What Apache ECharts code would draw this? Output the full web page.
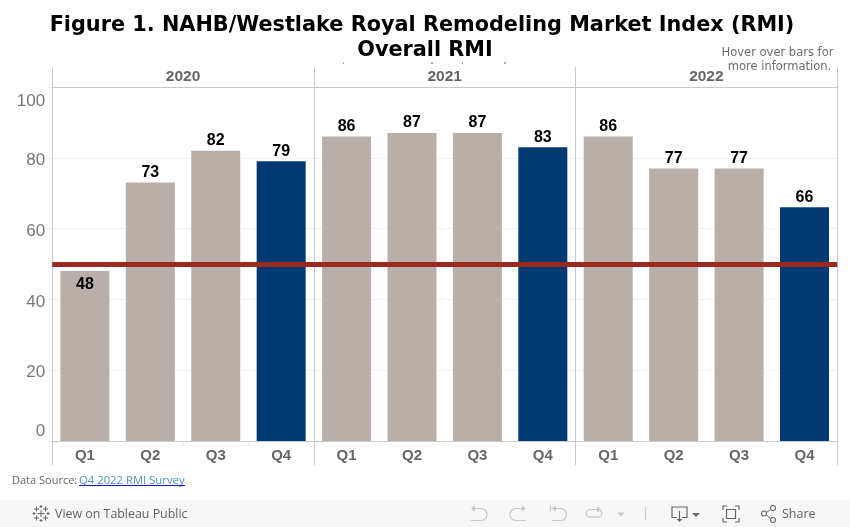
<!DOCTYPE html>
<html>
<head>
<meta charset="utf-8">
<title>Overall RMI</title>
<style>
html, body { margin: 0; padding: 0; background: #fff; }
#main { width: 850px; height: 527px; }
</style>
<script src="https://cdn.jsdelivr.net/npm/echarts@6/dist/echarts.min.js"></script>
</head>
<body>
<div id="main"></div>
<script>
const years = ['2020', '2021', '2022'];
const quarters = ['Q1', 'Q2', 'Q3', 'Q4', 'Q1', 'Q2', 'Q3', 'Q4', 'Q1', 'Q2', 'Q3', 'Q4'];
const rmiValues = [48, 73, 82, 79, 86, 87, 87, 83, 86, 77, 77, 66];
const yTicks = [0, 20, 40, 60, 80, 100];
const refLevel = 50;

const GREY_BAR = '#b9afa9';
const BLUE_BAR = '#003a70';
const FRAME = '#cbcbcb';
const SANS = '"Liberation Sans", Arial, sans-serif';
const DEJA = '"DejaVu Sans", sans-serif';

const yMin = yTicks[0];
const yMax = yTicks[yTicks.length - 1];
const yStep = yTicks[1] - yTicks[0];

// bars below the reference level carry the label inside
let barData = rmiValues.map(function (v, i) {
    return {
        value: v,
        itemStyle: { color: quarters[i] === 'Q4' ? BLUE_BAR : GREY_BAR },
        label: { position: v < refLevel ? 'insideTop' : 'top', distance: v < refLevel ? 6 : 2 }
    };
});

let iconCount = 0;
function icon(d, color, fill, width) {
    let name = 'toolbarIcon' + (iconCount++);
    echarts.graphic.registerShape(name, echarts.graphic.extendPath(d));
    return {
        type: name,
        style: { stroke: fill ? null : color, fill: fill ? color : null, lineWidth: width || 1.2 },
        silent: true
    };
}

function txt(x, y, text, font, color, align) {
    return {
        type: 'text',
        x: x,
        y: y,
        style: { text: text, font: font, fill: color, align: align || 'left', verticalAlign: 'middle' },
        silent: true
    };
}

const OFF = '#c8c8c8';
const ON = '#666666';

let chrome = [
    { type: 'rect', shape: { x: 0, y: 500, width: 850, height: 27 }, style: { fill: '#f7f7f7' }, silent: true, z: -1 },
    // clipped subtitle remains under the title
    { type: 'rect', shape: { x: 343, y: 62.5, width: 1, height: 1 }, style: { fill: '#555' }, silent: true },
    { type: 'rect', shape: { x: 431, y: 62.5, width: 2, height: 1 }, style: { fill: '#555' }, silent: true },
    { type: 'rect', shape: { x: 462, y: 62.5, width: 1, height: 1 }, style: { fill: '#555' }, silent: true },
    { type: 'rect', shape: { x: 504, y: 62.5, width: 2, height: 1 }, style: { fill: '#555' }, silent: true },

    txt(777.5, 53, 'Hover over bars for', '11.5px ' + DEJA, '#6b6b6b', 'center'),
    txt(779.5, 67, 'more information.', '11.5px ' + DEJA, '#6b6b6b', 'center'),

    txt(12, 480.5, 'Data Source:', '11px "Open Sans", sans-serif', '#666666'),
    txt(79, 480.5, 'Q4 2022 RMI Survey', '11.3px "Open Sans", sans-serif', '#4996b2'),
    { type: 'rect', shape: { x: 79, y: 485, width: 106, height: 1 }, style: { fill: '#1010c0' }, silent: true },

    txt(55, 514, 'View on Tableau Public', '12.4px "Open Sans", sans-serif', '#5f5f5f'),
    txt(782, 514, 'Share', '12.5px "Open Sans", sans-serif', '#5f5f5f'),

    // tableau logo
    icon('M41 510v7M37.5 513.5h7M36.5 506.5v5M34 509h5M45.5 506.5v5M43 509h5M36.5 515.5v5M34 518h5M45.5 515.5v5M43 518h5M41 505v3M39.5 506.5h3M41 519v3M39.5 520.5h3M34 512v3M32.5 513.5h3M48 512v3M46.5 513.5h3', '#666', false, 1),

    // undo / redo / revert / refresh
    icon('M472 508.5h9a6 6 0 0 1 0 12h-10', OFF),
    icon('M471 508.5l4 -3v6z', OFF, true),
    icon('M525 508.5h-9a6 6 0 0 0 0 12h10', OFF),
    icon('M526 508.5l-4 -3v6z', OFF, true),
    icon('M550.5 505.5v6M553 508.5h8a5.5 6 0 0 1 0 12h-9', OFF),
    icon('M552 508.5l4 -3v6z', OFF, true),
    icon('M598 509.5h-8a3.8 3.8 0 0 0 0 7.6h8a3.8 3.8 0 0 0 2 -7', OFF),
    icon('M601 509.5l-4 -3v6z', OFF, true),
    icon('M617 512.5h7.5l-3.75 4z', OFF, true),
    icon('M645.5 507v13', '#cfcfcf'),

    // download
    icon('M677 517.5h-5v-10.5h15v10.5h-5M679.5 511v9', ON),
    icon('M676.5 519h6l-3 3z', ON, true),
    icon('M692 513h8l-4 4z', ON, true),

    // fullscreen
    icon('M723 510v-4h4M735 506h4v4M739 518v4h-4M727 522h-4v-4M726.5 509.5h9v9h-9z', ON),

    // share
    icon('M766.5 512.5l4 -3M766.5 515l4 3.5', ON, false, 1),
    icon('M766.5 513.5a2.5 2.5 0 1 1 -5 0a2.5 2.5 0 1 1 5 0M775.5 508a2.5 2.5 0 1 1 -5 0a2.5 2.5 0 1 1 5 0M775.5 520a2.5 2.5 0 1 1 -5 0a2.5 2.5 0 1 1 5 0', ON, false, 1.1)
];

let myChart = echarts.init(document.getElementById('main'), null, { renderer: 'canvas' });

myChart.setOption({
    animation: false,
    backgroundColor: '#fff',
    title: [
        {
            text: 'Figure 1. NAHB/Westlake Royal Remodeling Market Index (RMI)',
            left: 417, top: 10, textAlign: 'center',
            textStyle: { fontFamily: DEJA, fontWeight: 'bold', fontSize: 20.8, color: '#000' }
        },
        {
            text: 'Overall RMI',
            left: 420, top: 35, textAlign: 'center',
            textStyle: { fontFamily: DEJA, fontWeight: 'bold', fontSize: 20.8, color: '#000' }
        }
    ],
    grid: { left: 52.2, width: 785, top: 87, bottom: 86, containLabel: false },
    xAxis: [
        {
            type: 'category',
            data: quarters,
            position: 'bottom',
            axisLine: { onZero: false, lineStyle: { color: FRAME, width: 1 } },
            axisTick: { show: true, interval: 0, length: 4, lineStyle: { color: '#e8e8e8' } },
            axisLabel: { interval: 0, margin: 7, color: '#666', fontFamily: SANS, fontWeight: 'bold', fontSize: 15 }
        },
        {
            // year header
            type: 'category',
            data: years,
            position: 'top',
            z: 3,
            axisLine: { onZero: false, lineStyle: { color: FRAME, width: 1 } },
            axisTick: { show: true, interval: 0, length: 20, lineStyle: { color: FRAME } },
            axisLabel: { interval: 0, margin: 2, color: '#666', fontFamily: SANS, fontWeight: 'bold', fontSize: 15.5 },
            splitLine: { show: true, interval: 0, lineStyle: { color: FRAME, width: 1 } }
        },
        {
            // panel separators below the axis
            type: 'category',
            data: years,
            position: 'bottom',
            axisLine: { show: false, onZero: false },
            axisTick: { show: true, interval: 0, length: 24, lineStyle: { color: FRAME } },
            axisLabel: { show: false }
        }
    ],
    yAxis: [
        {
            // inner tick labels sit slightly below their gridlines
            type: 'value',
            min: yMin,
            max: yMax,
            interval: yStep,
            axisLine: { show: false },
            axisTick: { show: true, length: 5, lineStyle: { color: '#eeeeee' } },
            axisLabel: {
                margin: 7,
                color: '#777',
                fontFamily: SANS,
                fontSize: 17,
                verticalAlign: 'top',
                padding: [-6, 0, 0, 0],
                formatter: function (v) { return v === yMin || v === yMax ? '' : String(v); }
            },
            splitLine: { show: true, lineStyle: { color: '#f1f1f1', width: 1 } }
        },
        {
            // end labels are pushed inside the frame
            type: 'value',
            position: 'left',
            min: yMin,
            max: yMax,
            interval: yStep,
            axisLine: { show: false },
            axisTick: { show: false },
            splitLine: { show: false },
            axisLabel: {
                margin: 7,
                color: '#777',
                fontFamily: SANS,
                fontSize: 17,
                padding: [6, 0, 1, 0],
                verticalAlignMinLabel: 'bottom',
                verticalAlignMaxLabel: 'top',
                formatter: function (v) { return v === yMin || v === yMax ? String(v) : ''; }
            }
        }
    ],
    series: [
        {
            type: 'bar',
            xAxisIndex: 0,
            yAxisIndex: 0,
            data: barData,
            barWidth: 49,
            label: {
                show: true,
                color: '#000',
                fontFamily: SANS,
                fontWeight: 'bold',
                fontSize: 16
            },
            markLine: {
                silent: true,
                symbol: 'none',
                label: { show: false },
                lineStyle: { color: '#9a2a20', width: 5, type: 'solid' },
                data: [{ yAxis: refLevel }]
            }
        }
    ],
    graphic: chrome
});
</script>
</body>
</html>
